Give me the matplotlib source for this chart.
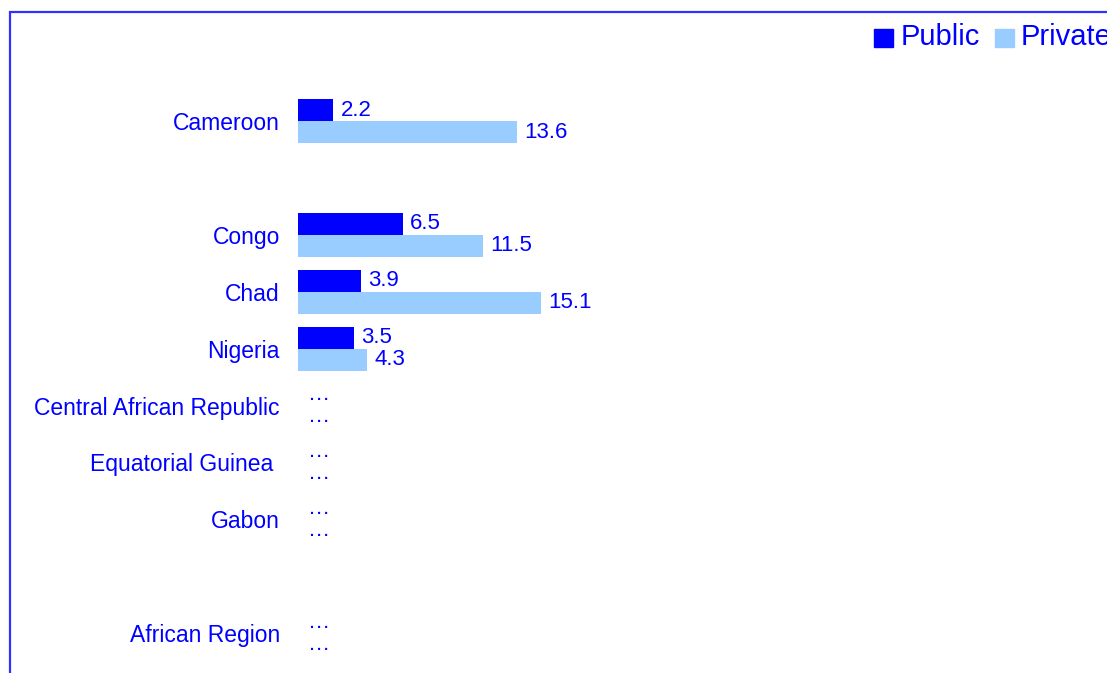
import numpy as np
import matplotlib.pyplot as plt
from matplotlib.patches import Rectangle

plt.rcParams['font.family'] = ['Liberation Sans', 'DejaVu Sans']

# データ（空文字は空行）
countries = ['Cameroon', '', 'Congo', 'Chad', 'Nigeria',
             'Central African Republic', 'Equatorial Guinea ', 'Gabon', '',
             'African Region']
public = [2.2, np.nan, 6.5, 3.9, 3.5, np.nan, np.nan, np.nan, np.nan, np.nan]
private = [13.6, np.nan, 11.5, 15.1, 4.3, np.nan, np.nan, np.nan, np.nan, np.nan]
series_names = ['Public', 'Private']
colors = ['#0000ff', '#99ccff']
text_color = '#0000ff'

W, H = 1107, 673
fig = plt.figure(figsize=(W / 100, H / 100), dpi=100)

# 軸の位置（ピクセル基準）
x0, row0, step = 298, 121, 56.9
top_px = row0 - step
ax = fig.add_axes([x0 / W, 0, (W - x0) / W, (H - top_px) / H])
ax.set_xlim(0, (W - x0) / 16.1)
ax.set_ylim((H - row0) / step, -1)
for s in ax.spines.values():
    s.set_visible(False)
ax.set_xticks([])

y = np.arange(len(countries))
bh = 22 / step
ax.barh(y - bh / 2, public, height=bh, color=colors[0], label=series_names[0])
ax.barh(y + bh / 2, private, height=bh, color=colors[1], label=series_names[1])

ax.set_yticks(y, countries)
ax.tick_params(axis='y', length=0, pad=13, labelsize=16.5, labelcolor=text_color)

# 値ラベル / 欠損は「…」
for i, lab in enumerate(countries):
    if lab == '':
        continue
    for val, off in ((public[i], -bh / 2), (private[i], bh / 2)):
        if np.isnan(val):
            ax.annotate('…', (0, i + off), xytext=(10, 0), textcoords='offset pixels',
                        va='center', ha='left', fontsize=16, color=text_color)
        else:
            ax.annotate(f'{val:.1f}', (val, i + off), xytext=(7, 0), textcoords='offset pixels',
                        va='center', ha='left', fontsize=16, color=text_color)

# 外枠（右と下は切れている）
fig.patches.append(Rectangle((10 / W, -0.5), 2, 1.5 - 12 / H, transform=fig.transFigure,
                             fill=False, edgecolor='#3030ff', linewidth=1.6, clip_on=False))

# 凡例
for name, c, sx, tx in zip(series_names, colors, [874, 995], [901, 1021]):
    fig.patches.append(Rectangle((sx / W, 1 - 47 / H), 19 / W, 18 / H,
                                 transform=fig.transFigure, color=c))
    fig.text(tx / W, 1 - 37 / H, name, fontsize=21, color=text_color,
             va='center', ha='left')

fig.savefig('out.png', dpi=100)
